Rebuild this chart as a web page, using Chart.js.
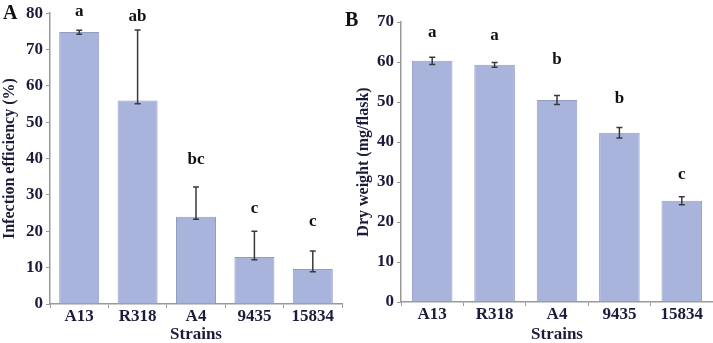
<!DOCTYPE html>
<html>
<head>
<meta charset="utf-8">
<script src="https://cdn.jsdelivr.net/npm/chart.js@4.4.1/dist/chart.umd.min.js"></script>
<style>
  body { margin: 0; background: #fff; width: 713px; height: 343px; overflow: hidden; position: relative; }
  #wrapA { position: absolute; left: 0; top: 0; width: 354px; height: 343px; }
  #wrapB { position: absolute; left: 354px; top: 0; width: 359px; height: 343px; }
  .panel { position: absolute; font: bold 20px 'Liberation Serif', serif; color: #111; line-height: 20px; }
</style>
</head>
<body>
<div id="wrapA"><canvas id="chartA"></canvas></div>
<div id="wrapB"><canvas id="chartB"></canvas></div>
<div class="panel" style="left:3px; top:2px;">A</div>
<div class="panel" style="left:345px; top:9px;">B</div>
<script>
// categories
var strains = ['A13', 'R318', 'A4', '9435', '15834'];

// panel A - infection efficiency (%)
var infection = [74.8, 56.0, 24.0, 12.9, 9.6];
var infectionErrHigh = [0.5, 19.4, 8.2, 7.1, 5.0];
var infectionErrLow = [0.6, 0.9, 0.7, 0.7, 0.7];
var infectionLetters = ['a', 'ab', 'bc', 'c', 'c'];
var infectionLetterY = [80.5, 79, 39.8, 26.3, 22.8];

// panel B - dry weight (mg/flask)
var dryWeight = [60.3, 59.3, 50.5, 42.3, 25.3];
var dryWeightErr = [0.9, 0.6, 1.1, 1.3, 1.0];
var dryWeightLetters = ['a', 'a', 'b', 'b', 'c'];
var dryWeightLetterY = [67.3, 66.7, 60.6, 50.8, 31.8];

var labelColor = '#1b1b3a';
var serif = "'Liberation Serif', 'Times New Roman', serif";

// error bars + significance letters
var extrasPlugin = {
    id: 'extras',
    afterDatasetsDraw: function(chart, args, opts) {
        var ctx = chart.ctx;
        var meta = chart.getDatasetMeta(0);
        var y = chart.scales.y;
        var vals = chart.data.datasets[0].data;
        ctx.save();
        ctx.strokeStyle = '#3a3a3a';
        ctx.lineWidth = 1.5;
        for (var i = 0; i < vals.length; i++) {
            var x = meta.data[i].x;
            var top = y.getPixelForValue(vals[i] + opts.errHigh[i]);
            var bot = y.getPixelForValue(vals[i] - opts.errLow[i]);
            ctx.beginPath();
            ctx.moveTo(x, top); ctx.lineTo(x, bot);
            ctx.moveTo(x - 3, top); ctx.lineTo(x + 3, top);
            ctx.moveTo(x - 3, bot); ctx.lineTo(x + 3, bot);
            ctx.stroke();
        }
        ctx.fillStyle = '#111';
        ctx.font = 'bold 17px ' + serif;
        ctx.textAlign = 'center';
        ctx.textBaseline = 'middle';
        for (var j = 0; j < opts.letters.length; j++) {
            ctx.fillText(opts.letters[j], meta.data[j].x, y.getPixelForValue(opts.letterY[j]));
        }
        ctx.restore();
    }
};

function makeChart(id, values, errHigh, errLow, letters, letterY, yMax, yTitle, yWidth, xHeight, pad, barPct) {
    return new Chart(document.getElementById(id).getContext('2d'), {
        type: 'bar',
        data: {
            labels: strains,
            datasets: [{
                data: values,
                backgroundColor: '#a8b4dc',
                borderColor: '#949dc0',
                borderWidth: 1,
                barPercentage: barPct,
                categoryPercentage: 1
            }]
        },
        options: {
            responsive: true,
            maintainAspectRatio: false,
            animation: false,
            layout: { padding: pad },
            plugins: {
                legend: { display: false },
                tooltip: { enabled: false },
                extras: { errHigh: errHigh, errLow: errLow, letters: letters, letterY: letterY }
            },
            scales: {
                x: {
                    afterFit: function(s) { s.height = xHeight; },
                    grid: { display: true, drawOnChartArea: false, tickLength: 4, color: '#999' },
                    border: { color: '#999', width: 1.5 },
                    ticks: { color: labelColor, padding: 0, font: { family: serif, size: 17, weight: 'bold', lineHeight: 1 } },
                    title: {
                        display: true,
                        text: 'Strains',
                        color: labelColor,
                        padding: { top: 0, bottom: 0 },
                        font: { family: serif, size: 17, weight: 'bold', lineHeight: 1 }
                    }
                },
                y: {
                    min: 0,
                    max: yMax,
                    afterFit: function(s) { s.width = yWidth; },
                    grid: { display: true, drawOnChartArea: false, tickLength: 4, color: '#999' },
                    border: { color: '#999', width: 1.5 },
                    ticks: { stepSize: 10, color: labelColor, padding: 3, font: { family: serif, size: 17, weight: 'bold' } },
                    title: {
                        display: true,
                        text: yTitle,
                        color: labelColor,
                        padding: { top: 0, bottom: 0 },
                        font: { family: serif, size: 16, weight: 'bold' }
                    }
                }
            }
        },
        plugins: [extrasPlugin]
    });
}

var chartA = makeChart('chartA', infection, infectionErrHigh, infectionErrLow, infectionLetters, infectionLetterY,
    80, 'Infection efficiency (%)', 50, 39, { left: 0, right: 12, top: 8, bottom: 0 }, 0.685);
var chartB = makeChart('chartB', dryWeight, dryWeightErr, dryWeightErr, dryWeightLetters, dryWeightLetterY,
    70, 'Dry weight (mg/flask)', 47, 41, { left: 0, right: 0, top: 22, bottom: 0 }, 0.65);
</script>
</body>
</html>
